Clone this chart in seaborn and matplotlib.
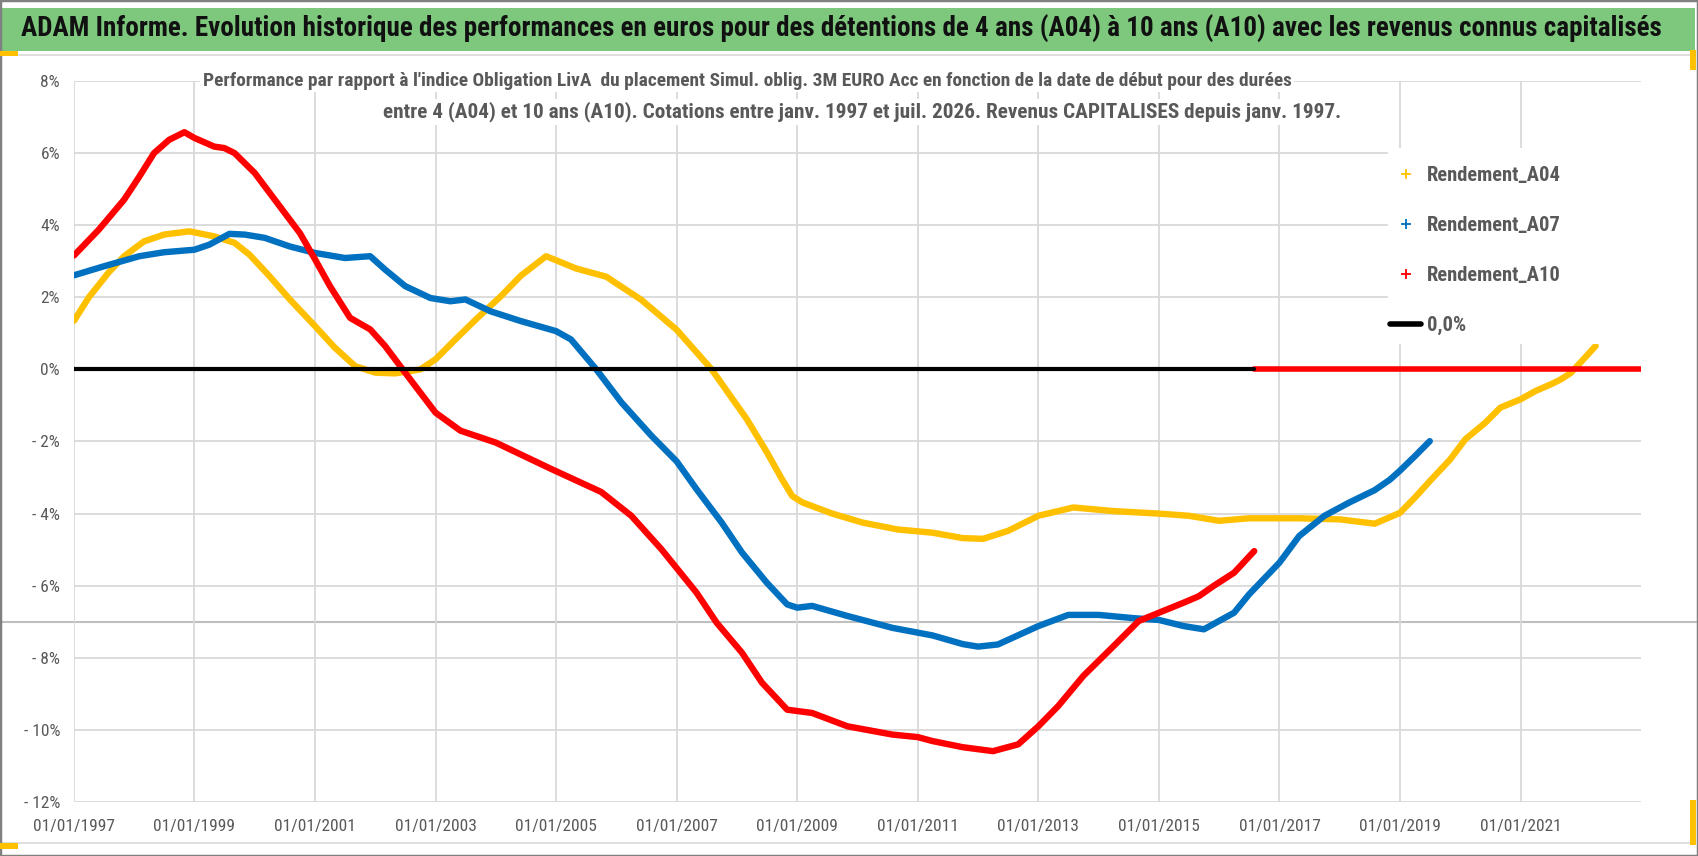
import pandas as pd
import matplotlib
matplotlib.use('Agg')
import matplotlib.pyplot as plt
import matplotlib.dates as mdates
from matplotlib import font_manager
from matplotlib.lines import Line2D
from matplotlib.patches import Rectangle
from matplotlib.ticker import FuncFormatter
import seaborn as sns

# ---- data (values in %) ----
a04_dates = ['1997-01', '1997-04', '1997-08', '1997-11', '1998-03', '1998-07', '1998-12',
             '1999-05', '1999-09', '1999-12', '2000-04', '2000-08', '2001-01', '2001-05',
             '2001-09', '2002-01', '2002-05', '2002-10', '2003-01', '2003-05', '2003-09',
             '2004-02', '2004-06', '2004-11', '2005-05', '2005-11', '2006-06', '2007-01',
             '2007-08', '2008-03', '2008-07', '2008-10', '2008-12', '2009-02', '2009-08',
             '2010-02', '2010-09', '2011-04', '2011-10', '2012-02', '2012-07', '2013-01',
             '2013-08', '2014-04', '2015-01', '2015-07', '2016-01', '2016-07', '2017-05',
             '2018-01', '2018-08', '2019-01', '2019-04', '2019-07', '2019-11', '2020-02',
             '2020-06', '2020-09', '2021-01', '2021-04', '2021-07', '2021-09', '2021-11',
             '2022-01', '2022-04']
a04_vals = [1.35, 2.0, 2.7, 3.14, 3.55, 3.74, 3.83,
            3.69, 3.51, 3.18, 2.58, 1.94, 1.2, 0.6,
            0.09, -0.09, -0.11, 0.0, 0.28, 0.83, 1.38,
            2.03, 2.6, 3.14, 2.8, 2.57, 1.93, 1.1,
            0.0, -1.38, -2.3, -3.05, -3.51, -3.69, -4.0,
            -4.25, -4.44, -4.53, -4.68, -4.7, -4.48, -4.06,
            -3.83, -3.93, -4.0, -4.06, -4.2, -4.13, -4.13,
            -4.16, -4.28, -3.98, -3.56, -3.1, -2.5, -1.94,
            -1.48, -1.06, -0.83, -0.6, -0.42, -0.28, -0.1,
            0.2, 0.65]

a07_dates = ['1997-01', '1997-07', '1998-02', '1998-07', '1999-01', '1999-04', '1999-08',
             '1999-11', '2000-03', '2000-08', '2001-01', '2001-07', '2001-12', '2002-03',
             '2002-07', '2002-12', '2003-04', '2003-07', '2003-12', '2004-06', '2005-01',
             '2005-04', '2005-09', '2006-02', '2006-08', '2007-01', '2007-05', '2007-10',
             '2008-02', '2008-07', '2008-11', '2009-01', '2009-04', '2009-11', '2010-08',
             '2011-04', '2011-10', '2012-01', '2012-05', '2013-01', '2013-07', '2014-01',
             '2014-08', '2015-01', '2015-06', '2015-10', '2016-04', '2016-07', '2017-01',
             '2017-05', '2017-10', '2018-03', '2018-08', '2018-11', '2019-01', '2019-04',
             '2019-07']
a07_vals = [2.61, 2.86, 3.14, 3.25, 3.32, 3.46, 3.76,
            3.74, 3.65, 3.41, 3.23, 3.09, 3.14, 2.77,
            2.31, 1.98, 1.89, 1.94, 1.61, 1.34, 1.06,
            0.83, 0.0, -0.92, -1.84, -2.55, -3.32, -4.25,
            -5.08, -5.92, -6.52, -6.61, -6.56, -6.84, -7.17,
            -7.38, -7.62, -7.69, -7.63, -7.12, -6.81, -6.81,
            -6.9, -6.95, -7.12, -7.21, -6.75, -6.24, -5.36,
            -4.62, -4.06, -3.69, -3.35, -3.06, -2.81, -2.41,
            -1.99]

a10_dates = ['1997-01', '1997-06', '1997-11', '1998-02', '1998-05', '1998-08', '1998-11',
             '1999-01', '1999-05', '1999-07', '1999-09', '2000-01', '2000-07', '2000-10',
             '2001-01', '2001-04', '2001-08', '2001-12', '2002-03', '2002-06', '2002-08',
             '2003-01', '2003-06', '2004-01', '2004-12', '2005-10', '2006-04', '2006-10',
             '2007-05', '2007-09', '2008-02', '2008-06', '2008-11', '2009-04', '2009-11',
             '2010-08', '2011-01', '2011-04', '2011-10', '2012-04', '2012-09', '2013-01',
             '2013-05', '2013-10', '2014-04', '2014-09', '2015-01', '2015-06', '2015-09',
             '2015-12', '2016-04', '2016-08']
a10_vals = [3.16, 3.88, 4.71, 5.35, 6.0, 6.37, 6.58,
            6.42, 6.18, 6.14, 6.0, 5.45, 4.34, 3.78,
            3.05, 2.31, 1.43, 1.11, 0.65, 0.09, -0.28,
            -1.2, -1.7, -2.03, -2.76, -3.4, -4.06, -4.99,
            -6.19, -7.03, -7.86, -8.69, -9.44, -9.53, -9.9,
            -10.13, -10.2, -10.31, -10.48, -10.59, -10.4, -9.9,
            -9.34, -8.5, -7.68, -6.98, -6.75, -6.47, -6.29,
            -6.0, -5.64, -5.04]

# A10 has no values after Aug 2016 -> shown at 0
a10_tail_dates = ['2016-08-01', '2022-12-31']
a10_tail_vals = [0.0, 0.0]

zero_dates = ['1997-01-01', '2016-08-01']
zero_vals = [0.0, 0.0]

labels = ['Rendement_A04', 'Rendement_A07', 'Rendement_A10', '0,0%']
colors = ['#FFC000', '#0070C0', '#FF0000', '#000000']
x_ticks = ['1997-01-01', '1999-01-01', '2001-01-01', '2003-01-01', '2005-01-01', '2007-01-01',
           '2009-01-01', '2011-01-01', '2013-01-01', '2015-01-01', '2017-01-01', '2019-01-01',
           '2021-01-01']

title = ("ADAM Informe. Evolution historique des performances en euros pour des détentions "
         "de 4 ans (A04) à 10 ans (A10) avec les revenus connus capitalisés")
sub1 = ("Performance par rapport à l'indice Obligation LivA  du placement Simul. oblig. 3M EURO Acc "
        "en fonction de la date de début pour des durées")
sub2 = ("entre 4 (A04) et 10 ans (A10). Cotations entre janv. 1997 et juil. 2026. "
        "Revenus CAPITALISES depuis janv. 1997.")

sns.set_theme(style='white')
# narrow-ish font, closest thing to Calibri that is installed
installed = {f.name for f in font_manager.fontManager.ttflist}
FONT = next(n for n in ['Liberation Sans Narrow', 'Roboto Condensed', 'Open Sans Condensed',
                        'Lato', 'DejaVu Sans'] if n in installed)
plt.rcParams['font.family'] = [FONT, 'DejaVu Sans']

W, H = 1698, 856
GREY = '#595959'
fig = plt.figure(figsize=(W / 100, H / 100), dpi=100)
fig.patch.set_facecolor('white')


def px(x, y):
    return x / W, 1 - y / H


def fit(t, target):
    r = fig.canvas.get_renderer()
    w = t.get_window_extent(renderer=r).width
    t.set_fontsize(t.get_fontsize() * target / w)


ax = fig.add_axes([74 / W, 1 - 802 / H, (1641 - 74) / W, (802 - 81) / H])
ax.set_facecolor('none')

# series
for d, v, c in [(a04_dates, a04_vals, colors[0]), (a07_dates, a07_vals, colors[1]),
                (a10_dates, a10_vals, colors[2])]:
    sns.lineplot(x=pd.to_datetime(d, format='%Y-%m'), y=v, color=c, linewidth=4.6, ax=ax, legend=False)
sns.lineplot(x=pd.to_datetime(a10_tail_dates), y=a10_tail_vals, color=colors[2],
             linewidth=4.0, ax=ax, legend=False)
sns.lineplot(x=pd.to_datetime(zero_dates), y=zero_vals, color='black',
             linewidth=3.0, ax=ax, legend=False)

ax.set_xlim(pd.Timestamp('1997-01-01'), pd.Timestamp('2023-01-01'))
ax.set_ylim(-12, 8)
ax.set_yticks(range(-12, 9, 2))
ax.yaxis.set_major_formatter(FuncFormatter(lambda v, _: f'{v:.0f}%' if v >= 0 else f'- {abs(v):.0f}%'))
ax.set_xticks(pd.to_datetime(x_ticks))
ax.xaxis.set_major_formatter(mdates.DateFormatter('%d/%m/%Y'))
ax.grid(True, color='#D9D9D9', linewidth=1.3)
ax.set_axisbelow(True)
ax.tick_params(axis='both', length=0, labelsize=12.5, labelcolor=GREY)
ax.tick_params(axis='y', pad=10)
ax.tick_params(axis='x', pad=12)
ax.set_xlabel('')
ax.set_ylabel('')
for s in ax.spines.values():
    s.set_visible(False)

# frame, title bar and the grey rule across the chart
fig.add_artist(Line2D([0, 1], [1 - 622 / H] * 2, transform=fig.transFigure,
                      color='#BFBFBF', linewidth=1.5, zorder=-1))
fig.add_artist(Rectangle(px(2, 51), (1695 - 2) / W, 43 / H, transform=fig.transFigure,
                         facecolor='#7DC87D', edgecolor='none', zorder=1))
fig.add_artist(Line2D([0, 1690 / W], [1 - 55 / H] * 2, transform=fig.transFigure,
                      color='#D9D9D9', linewidth=1.2, zorder=1))
fig.add_artist(Line2D([0, 1690 / W], [1 - 843 / H] * 2, transform=fig.transFigure,
                      color='#D9D9D9', linewidth=1.2, zorder=1))
fig.add_artist(Rectangle((0, 0), 1, 1, transform=fig.transFigure, fill=False,
                         edgecolor='#808080', linewidth=2.5, zorder=6))
for (hx, hy, hw, hh) in [(0, 51, 18, 5), (0, 843, 18, 6), (1690, 50, 6, 20), (1690, 800, 6, 45)]:
    fig.add_artist(Rectangle(px(hx, hy + hh), hw / W, hh / H, transform=fig.transFigure,
                             facecolor='#FFC000', edgecolor='none', zorder=6))

# legend on a white box
fig.add_artist(Rectangle(px(1388, 344), (1641 - 1388) / W, (344 - 148) / H,
                         transform=fig.transFigure, facecolor='white', edgecolor='none', zorder=2))
probe = fig.text(0, 0, labels[0], fontsize=16, fontweight='bold')
fit(probe, 134)
leg_size = probe.get_fontsize()
probe.remove()
em = leg_size * 100 / 72
handles = [Line2D([], [], color=c, marker='+', linestyle='none', markersize=7, markeredgewidth=1.3)
           for c in colors[:3]]
handles.append(Line2D([], [], color='black', linewidth=4))
fig.legend(handles, labels, loc='upper left', bbox_to_anchor=px(1390, 176 - 0.5 * em),
           frameon=False, prop={'weight': 'bold', 'size': leg_size}, labelcolor=GREY,
           labelspacing=51 / em - 0.97, handlelength=31 / em, handletextpad=6 / em,
           borderpad=0, borderaxespad=0)

# titles
t0 = fig.text(*px(841, 29), title, ha='center', va='center', fontsize=22, fontweight='bold',
              color='#111111', zorder=3)
t1 = fig.text(*px(747, 81), sub1, ha='center', va='center', fontsize=16, fontweight='bold',
              color=GREY, zorder=3, bbox=dict(facecolor='white', edgecolor='none', pad=2))
t2 = fig.text(*px(862, 112), sub2, ha='center', va='center', fontsize=16, fontweight='bold',
              color=GREY, zorder=3, bbox=dict(facecolor='white', edgecolor='none', pad=2))

fit(t0, 1643)
fit(t1, 1087)
fit(t2, 957)

fig.savefig('out.png', dpi=100)
